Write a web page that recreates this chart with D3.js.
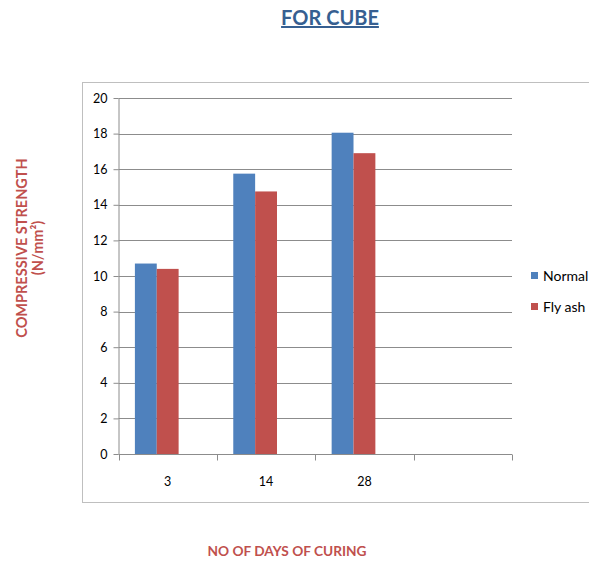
<!DOCTYPE html>
<html>
<head>
<meta charset="utf-8">
<script src="https://cdn.jsdelivr.net/npm/d3@7"></script>
<style>
  html, body { margin: 0; padding: 0; background: #fff; }
  svg { display: block; }
</style>
</head>
<body>
<svg id="chart" width="589" height="564"></svg>
<script>
// Curing age categories (last slot left empty, as in the workbook)
const categories = ["3", "14", "28", ""];
const seriesNames = ["Normal", "Fly ash"];
const normalValues = [10.7, 15.75, 18.05];
const flyAshValues = [10.4, 14.75, 16.9];
const yTicks = [0, 2, 4, 6, 8, 10, 12, 14, 16, 18, 20];
const seriesColors = ["#4f81bd", "#c0504d"];

const font = "Lato, 'Open Sans', sans-serif";
const svg = d3.select("#chart");

// outer chart border
svg.append("rect")
  .attr("x", 82.5).attr("y", 82.5)
  .attr("width", 520).attr("height", 420)
  .attr("fill", "none").attr("stroke", "#bfbfbf").attr("stroke-width", 1);

const plot = { left: 118.5, right: 512, top: 98, bottom: 454 };

const y = d3.scaleLinear().domain([0, 20]).range([plot.bottom, plot.top]);
const x0 = d3.scaleBand().domain(categories).range([plot.left, plot.right]).padding(0);
// three slots per category with a 150% gap split around them
const x1 = d3.scaleBand().domain(d3.range(3)).range([0, x0.bandwidth()])
  .paddingInner(0).paddingOuter(0.75);

// gridlines
svg.append("g").selectAll("line").data(yTicks.filter(t => t > 0)).join("line")
  .attr("x1", plot.left).attr("x2", plot.right)
  .attr("y1", d => Math.round(y(d)) + 0.5).attr("y2", d => Math.round(y(d)) + 0.5)
  .attr("stroke", "#8c8c8c").attr("stroke-width", 1);

// y axis
const yAxis = svg.append("g")
  .attr("transform", `translate(${plot.left},0)`)
  .call(d3.axisLeft(y).tickValues(yTicks).tickSize(5).tickPadding(6).tickSizeOuter(0));
yAxis.select(".domain").attr("stroke", "#8c8c8c");
yAxis.selectAll(".tick line").attr("stroke", "#8c8c8c");
yAxis.selectAll(".tick text").attr("font-family", font).attr("font-size", 12.5).attr("fill", "#000");

// x axis with ticks at category boundaries
const xAxisG = svg.append("g").attr("transform", `translate(0,${plot.bottom + 0.5})`);
xAxisG.append("line").attr("x1", plot.left).attr("x2", plot.right)
  .attr("stroke", "#8c8c8c");
const boundaries = categories.map(c => x0(c)).concat([x0(categories[categories.length - 1]) + x0.bandwidth()]);
xAxisG.selectAll("line.tk").data(boundaries).join("line").attr("class", "tk")
  .attr("x1", d => Math.round(d) + 0.5).attr("x2", d => Math.round(d) + 0.5)
  .attr("y1", 0).attr("y2", 6).attr("stroke", "#8c8c8c");
xAxisG.selectAll("text").data(categories).join("text")
  .attr("x", d => x0(d) + x0.bandwidth() / 2).attr("y", 31)
  .attr("text-anchor", "middle").attr("font-family", font).attr("font-size", 12.5)
  .attr("fill", "#000").text(d => d);

// bars
const seriesValues = [normalValues, flyAshValues];
seriesValues.forEach((vals, si) => {
  svg.append("g").selectAll("rect").data(vals).join("rect")
    .attr("x", (d, i) => x0(categories[i]) + x1(si))
    .attr("width", x1.bandwidth())
    .attr("y", d => y(d))
    .attr("height", d => y(0) - y(d))
    .attr("fill", seriesColors[si]);
});

// legend
const legend = svg.append("g");
seriesNames.forEach((name, i) => {
  const ly = 276 + i * 31;
  legend.append("rect").attr("x", 531).attr("y", ly - 4).attr("width", 7).attr("height", 7)
    .attr("fill", seriesColors[i]);
  legend.append("text").attr("x", 543).attr("y", ly + 5)
    .attr("font-family", font).attr("font-size", 14).attr("fill", "#000").text(name);
});

// title
svg.append("text").attr("x", 330).attr("y", 25).attr("text-anchor", "middle")
  .attr("font-family", font).attr("font-weight", "bold").attr("font-size", 20)
  .attr("fill", "#365f91").attr("text-decoration", "underline").text("FOR CUBE");

// axis titles
const yTitle = svg.append("text").attr("transform", "translate(27,248) rotate(-90)")
  .attr("text-anchor", "middle").attr("font-family", font).attr("font-weight", "bold")
  .attr("font-size", 14.5).attr("fill", "#c0504d");
yTitle.append("tspan").attr("x", 0).attr("y", 0).text("COMPRESSIVE STRENGTH");
yTitle.append("tspan").attr("x", 0).attr("y", 16).text("(N/mm²)");

svg.append("text").attr("x", 287).attr("y", 556).attr("text-anchor", "middle")
  .attr("font-family", font).attr("font-weight", "bold").attr("font-size", 13.7)
  .attr("fill", "#c0504d").text("NO OF DAYS OF CURING");
</script>
</body>
</html>
